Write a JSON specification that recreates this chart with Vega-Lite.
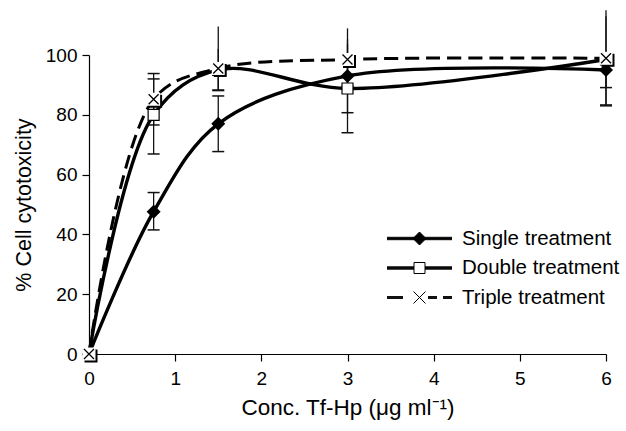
{
  "$schema": "https://vega.github.io/schema/vega-lite/v6.json",
  "width": 517,
  "height": 299,
  "autosize": {"type": "none"},
  "padding": {"left": 89, "top": 55, "right": 20, "bottom": 77},
  "background": "white",
  "config": {
    "font": "Liberation Sans",
    "view": {"stroke": null},
    "axis": {
      "domainColor": "black", "tickColor": "black", "labelColor": "black", "titleColor": "black",
      "labelFontSize": 19, "titleFontSize": 21.5, "titleFontWeight": "normal",
      "grid": false, "tickSize": 7, "domainWidth": 1.2, "tickWidth": 1.2
    },
    "legend": {"labelFontSize": 20.5, "labelColor": "black"}
  },
  "data": {
    "values": [
      {"series": "Single treatment", "conc": 0, "cyto": 0, "low": 0, "high": 0},
      {"series": "Single treatment", "conc": 0.75, "cyto": 47.6, "low": 41.5, "high": 54},
      {"series": "Single treatment", "conc": 1.5, "cyto": 77, "low": 67.7, "high": 86.3},
      {"series": "Single treatment", "conc": 3, "cyto": 93, "low": 80.7, "high": 105.3},
      {"series": "Single treatment", "conc": 6, "cyto": 95, "low": 89.1, "high": 101},
      {"series": "Double treatment", "conc": 0, "cyto": 0, "low": 0, "high": 0},
      {"series": "Double treatment", "conc": 0.75, "cyto": 80, "low": 66.9, "high": 92},
      {"series": "Double treatment", "conc": 1.5, "cyto": 95, "low": 88.1, "high": 102},
      {"series": "Double treatment", "conc": 3, "cyto": 88.8, "low": 74, "high": 103.6},
      {"series": "Double treatment", "conc": 6, "cyto": 98.5, "low": 83.3, "high": 113},
      {"series": "Triple treatment", "conc": 0, "cyto": 0, "low": 0, "high": 0},
      {"series": "Triple treatment", "conc": 0.75, "cyto": 85.2, "low": 76.6, "high": 93.8},
      {"series": "Triple treatment", "conc": 1.5, "cyto": 95.5, "low": 88.3, "high": 109.5},
      {"series": "Triple treatment", "conc": 3, "cyto": 98.5, "low": 89.5, "high": 108.9},
      {"series": "Triple treatment", "conc": 6, "cyto": 98.9, "low": 83, "high": 115}
    ]
  },
  "encoding": {
    "x": {
      "field": "conc", "type": "quantitative",
      "scale": {"domain": [0, 6], "nice": false, "zero": false},
      "axis": {"values": [0, 1, 2, 3, 4, 5, 6], "format": "d", "labelPadding": 8, "titlePadding": 8, "titleFontSize": 22.5, "labelFlush": false, "title": "Conc. Tf-Hp (μg ml⁻¹)"}
    },
    "y": {
      "field": "cyto", "type": "quantitative",
      "scale": {"domain": [0, 100], "nice": false},
      "axis": {"values": [0, 20, 40, 60, 80, 100], "labelPadding": 5, "titlePadding": 10, "title": "% Cell cytotoxicity"}
    }
  },
  "layer": [
    {
      "transform": [{"filter": "datum.conc > 0"}],
      "mark": {"type": "rule", "color": "#111", "strokeWidth": 1.3},
      "encoding": {"y": {"field": "low", "type": "quantitative"}, "y2": {"field": "high"}}
    },
    {
      "transform": [
        {"filter": "datum.conc > 0"},
        {"fold": ["low", "high"], "as": ["kind", "capv"]},
        {"filter": "datum.capv <= 100"}
      ],
      "mark": {"type": "point", "shape": "M-1,0H1", "size": 144, "filled": false, "stroke": "#111", "strokeWidth": 1.5, "opacity": 1},
      "encoding": {"y": {"field": "capv", "type": "quantitative"}}
    },
    {
      "transform": [{"filter": "datum.series != 'Triple treatment'"}],
      "mark": {"type": "line", "interpolate": "catmull-rom", "color": "black", "strokeWidth": 3.4},
      "encoding": {"detail": {"field": "series"}}
    },
    {
      "transform": [{"filter": "datum.series == 'Triple treatment'"}],
      "mark": {"type": "line", "interpolate": "catmull-rom", "color": "black", "strokeWidth": 3, "strokeDash": [14, 7]}
    },
    {
      "transform": [{"filter": "datum.series == 'Single treatment'"}],
      "mark": {"type": "point", "shape": "diamond", "size": 196, "filled": true, "fill": "black", "stroke": null, "opacity": 1}
    },
    {
      "transform": [{"filter": "datum.series == 'Double treatment'"}],
      "mark": {"type": "point", "shape": "square", "size": 121, "filled": true, "fill": "white", "stroke": "black", "strokeWidth": 1.2, "opacity": 1}
    },
    {
      "transform": [{"filter": "datum.series == 'Triple treatment'"}],
      "mark": {"type": "point", "shape": "square", "size": 169, "filled": true, "fill": "black", "stroke": null, "xOffset": 2, "yOffset": 2, "opacity": 1}
    },
    {
      "transform": [{"filter": "datum.series == 'Triple treatment'"}],
      "mark": {"type": "point", "shape": "square", "size": 169, "filled": true, "fill": "white", "stroke": null, "opacity": 1}
    },
    {
      "transform": [{"filter": "datum.series == 'Triple treatment'"}],
      "mark": {"type": "point", "shape": "M-1,-1L1,1M1,-1L-1,1", "size": 100, "filled": false, "stroke": "black", "strokeWidth": 1.3, "opacity": 1}
    },
    {
      "transform": [{"filter": "datum.conc < 0"}],
      "mark": {"type": "point", "filled": true, "stroke": "black", "strokeWidth": 1, "opacity": 1, "size": 400},
      "encoding": {
        "shape": {
          "field": "series", "type": "nominal",
          "scale": {
            "domain": ["Single treatment", "Double treatment", "Triple treatment"],
            "range": [
              "M-3.25,-0.12H3.25M-3.25,-0.06H3.25M-3.25,0H3.25M-3.25,0.06H3.25M-3.25,0.12H3.25M0,-0.65L0.65,0L0,0.65L-0.65,0Z",
              "M-3.25,-0.12H-0.55M-3.25,-0.06H-0.55M-3.25,0H-0.55M-3.25,0.06H-0.55M-3.25,0.12H-0.55M0.55,-0.12H3.25M0.55,-0.06H3.25M0.55,0H3.25M0.55,0.06H3.25M0.55,0.12H3.25M-0.55,-0.55H0.55V0.55H-0.55Z",
              "M-3.25,-0.09H-1.65M-3.25,-0.03H-1.65M-3.25,0.03H-1.65M-3.25,0.09H-1.65M0.85,-0.09H1.75M0.85,-0.03H1.75M0.85,0.03H1.75M0.85,0.09H1.75M2.35,-0.09H3.25M2.35,-0.03H3.25M2.35,0.03H3.25M2.35,0.09H3.25M-0.6,-0.6L0.6,0.6M0.6,-0.6L-0.6,0.6"
            ]
          },
          "legend": {"orient": "none", "legendX": 320, "legendY": 173, "title": null, "padding": 0, "symbolSize": 400, "symbolStrokeWidth": 1, "labelOffset": 32, "rowPadding": 8.5, "labelFontSize": 20.5}
        },
        "fill": {
          "field": "series", "type": "nominal",
          "scale": {"domain": ["Single treatment", "Double treatment", "Triple treatment"], "range": ["black", "white", "transparent"]},
          "legend": {"orient": "none", "legendX": 320, "legendY": 173, "title": null, "padding": 0, "symbolSize": 400, "symbolStrokeWidth": 1, "labelOffset": 32, "rowPadding": 8.5, "labelFontSize": 20.5}
        }
      }
    }
  ]
}
